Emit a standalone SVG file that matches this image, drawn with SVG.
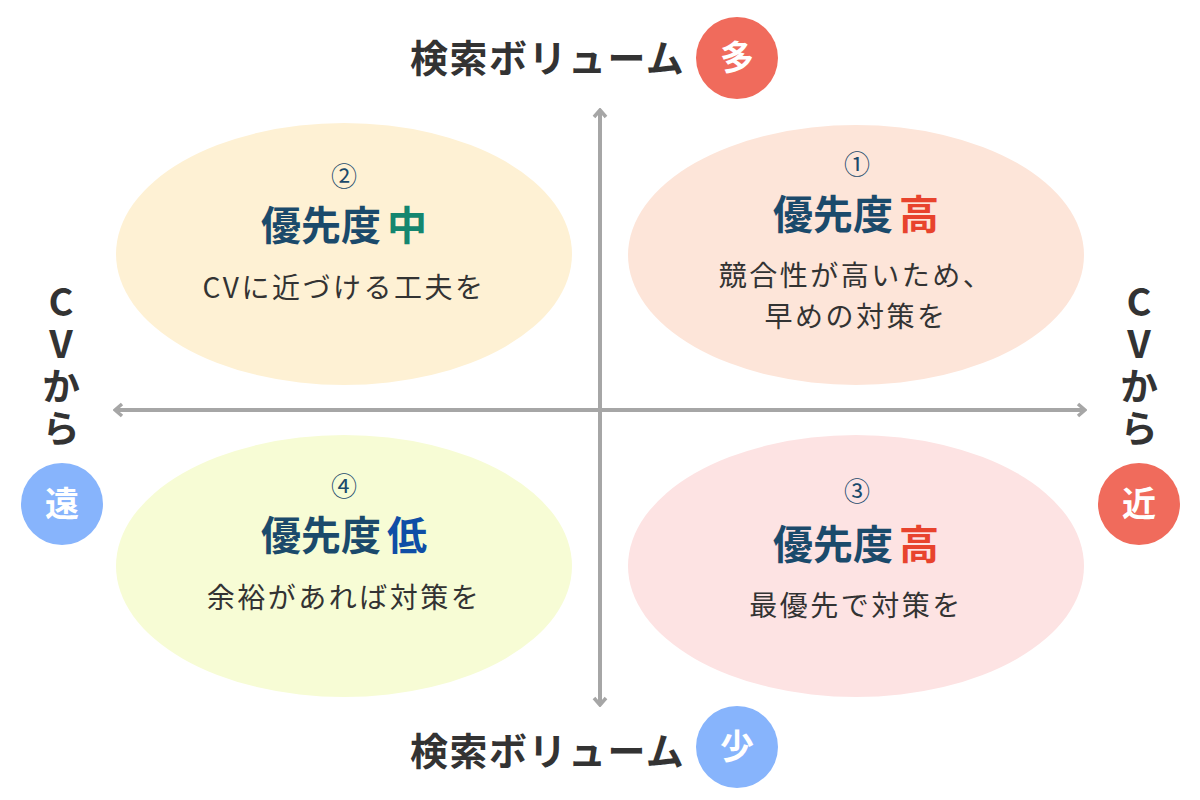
<svg xmlns="http://www.w3.org/2000/svg" width="1200" height="800" viewBox="0 0 1200 800">
<style>
text{font-family:"Noto Sans CJK JP","Noto Sans",sans-serif;}
.ttl{font-size:38px;font-weight:700;fill:#333;letter-spacing:1.5px;}
.side{font-size:38px;font-weight:700;fill:#333;writing-mode:vertical-rl;text-orientation:upright;letter-spacing:4px;}
.badge{font-size:34px;font-weight:700;fill:#fff;text-anchor:middle;}
.num{font-size:26px;fill:#1b4a6b;text-anchor:middle;}
.pri{font-size:40px;font-weight:700;fill:#1b4a6b;text-anchor:middle;}
.sub{font-size:28px;fill:#333;text-anchor:middle;letter-spacing:2.5px;}
.axis{stroke:#a6a6a6;stroke-width:4;fill:none;}
</style>
<defs>
<marker id="arr" viewBox="0 0 12 16" refX="10" refY="8" markerWidth="12" markerHeight="16" markerUnits="userSpaceOnUse" orient="auto">
<path d="M3 2 L10 8 L3 14" fill="none" stroke="#a6a6a6" stroke-width="3.5"/>
</marker>
</defs>
<rect width="1200" height="800" fill="#fff"/>
<g id="q2"><ellipse cx="344" cy="254" rx="228" ry="131" fill="#fef1d4"/>
<text class="num" x="344" y="186">②</text>
<text class="pri" x="344" y="240">優先度<tspan dx="6" fill="#14866f">中</tspan></text>
<text class="sub" x="344" y="298">CVに近づける工夫を</text></g>
<g id="q1"><ellipse cx="856" cy="255" rx="228" ry="130" fill="#fde5d9"/>
<text class="num" x="857" y="174">①</text>
<text class="pri" x="856" y="229">優先度<tspan dx="6" fill="#e8432d">高</tspan></text>
<text class="sub" x="856" y="286">競合性が高いため、</text>
<text class="sub" x="856" y="327">早めの対策を</text></g>
<g id="q4"><ellipse cx="344" cy="566" rx="228" ry="131" fill="#f7fcd5"/>
<text class="num" x="344" y="496">④</text>
<text class="pri" x="344" y="550">優先度<tspan dx="6" fill="#0f4ea6">低</tspan></text>
<text class="sub" x="344" y="608">余裕があれば対策を</text></g>
<g id="q3"><ellipse cx="856" cy="566" rx="228" ry="131" fill="#fde3e3"/>
<text class="num" x="857" y="501">③</text>
<text class="pri" x="856" y="559">優先度<tspan dx="6" fill="#e8432d">高</tspan></text>
<text class="sub" x="856" y="616">最優先で対策を</text></g>
<g id="connectors">
<line class="axis" x1="600" y1="410" x2="600" y2="110" marker-end="url(#arr)"/>
<line class="axis" x1="600" y1="410" x2="600" y2="705" marker-end="url(#arr)"/>
<line class="axis" x1="600" y1="410" x2="1085" y2="410" marker-end="url(#arr)"/>
<line class="axis" x1="600" y1="410" x2="115" y2="410" marker-end="url(#arr)"/>
</g>
<g id="top-label"><text class="ttl" x="410" y="72">検索ボリューム</text>
<circle cx="737" cy="58" r="41" fill="#f06b5c"/><text class="badge" x="737" y="70">多</text></g>
<g id="bottom-label"><text class="ttl" x="410" y="765">検索ボリューム</text>
<circle cx="737" cy="747" r="41" fill="#87b4fc"/><text class="badge" x="737" y="759">少</text></g>
<g id="left-label"><text class="side" x="61" y="283">CVから</text>
<circle cx="62" cy="504" r="41" fill="#87b4fc"/><text class="badge" x="62" y="516">遠</text></g>
<g id="right-label"><text class="side" x="1139" y="283">CVから</text>
<circle cx="1139" cy="504" r="41" fill="#f06b5c"/><text class="badge" x="1139" y="516">近</text></g>
</svg>
